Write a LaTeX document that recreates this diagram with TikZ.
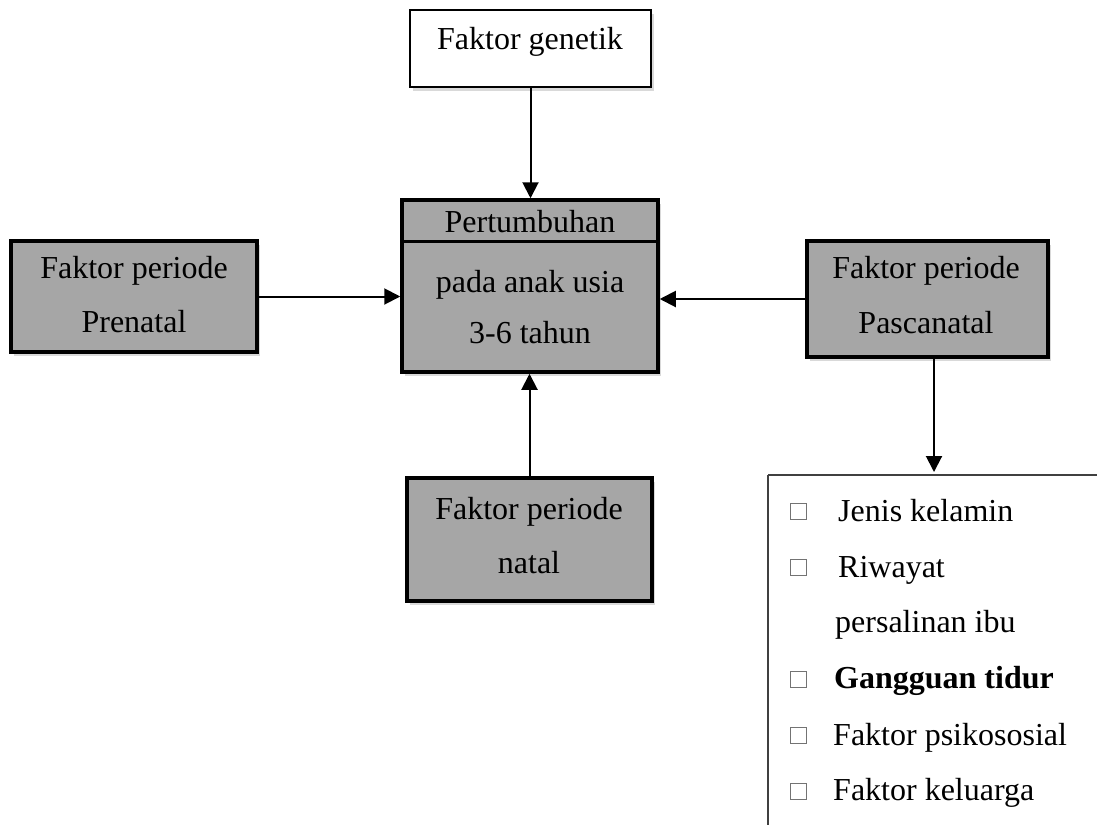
\documentclass[tikz,border=0pt]{standalone}
\usepackage{fontspec}
\setmainfont{Liberation Serif}
\usetikzlibrary{arrows.meta,shadows}
\definecolor{boxgray}{RGB}{166,166,166}
\begin{document}
\begin{tikzpicture}[x=1pt,y=-1pt,
  txt/.style={font=\fontsize{32}{36}\selectfont, inner sep=0pt, anchor=base},
  itemtxt/.style={font=\fontsize{32}{36}\selectfont, inner sep=0pt, anchor=base west},
  graybox/.style={draw, line width=3.5pt, fill=boxgray, inner sep=0pt,
    drop shadow={shadow xshift=3pt, shadow yshift=-4pt, opacity=0.3}},
  whitebox/.style={draw, line width=2pt, fill=white, inner sep=0pt,
    drop shadow={shadow xshift=3pt, shadow yshift=-4pt, opacity=0.3}},
  arr/.style={line width=2pt, -{Triangle[length=16pt,width=16pt]}},
  sq/.style={draw=black!55, line width=0.6pt, minimum size=16pt, inner sep=0pt},
  listline/.style={line width=1.8pt, draw=black!75}
]
\useasboundingbox (0,0) rectangle (1097,825);

% boxes
\node[whitebox, minimum width=241pt, minimum height=77pt] (genetik) at (530.5,48.5) {};
\node[graybox, minimum width=256pt, minimum height=172pt] (central) at (530,286) {};
\node[graybox, minimum width=246pt, minimum height=111pt] (prenatal) at (134,296.5) {};
\node[graybox, minimum width=241pt, minimum height=116pt] (pasca) at (927.5,299) {};
\node[graybox, minimum width=245pt, minimum height=123pt] (natal) at (529.5,539.5) {};

% divider in central box
\draw[line width=3pt] (central.west |- 0,241) coordinate (divl) -- (central.east |- 0,241) coordinate (divr);

% texts
\node[txt] (tgen) at (530,49) {Faktor genetik};
\node[txt] (tc1) at (530,232) {Pertumbuhan};
\node[txt] (tc2) at (530,292) {pada anak usia};
\node[txt] (tc3) at (530,343) {3-6 tahun};
\node[txt] (tp1) at (134,278) {Faktor periode};
\node[txt] (tp2) at (134,332) {Prenatal};
\node[txt] (tq1) at (926,278) {Faktor periode};
\node[txt] (tq2) at (926,333) {Pascanatal};
\node[txt] (tn1) at (529,519) {Faktor periode};
\node[txt] (tn2) at (529,573) {natal};

% list frame
\coordinate (lsttl) at (768,475);
\coordinate (lsttr) at (1097,475);
\coordinate (lstbl) at (768,825);
\draw[listline] (lsttl) -- (lsttr);
\draw[listline] (lsttl) -- (lstbl);
\coordinate (listtop) at (934,472);

% list items
\node[sq] (s1) at (798,511) {};
\node[itemtxt] (i1) at (838,521) {Jenis kelamin};
\node[sq] (s2) at (798,567) {};
\node[itemtxt] (i2) at (838,577) {Riwayat};
\node[itemtxt] (i2b) at (835,632) {persalinan ibu};
\node[sq] (s3) at (798,679) {};
\node[itemtxt, font=\fontsize{32}{36}\selectfont\bfseries] (i3) at (834,688) {Gangguan tidur};
\node[sq] (s4) at (798,735) {};
\node[itemtxt] (i4) at (833,745) {Faktor psikososial};
\node[sq] (s5) at (798,791) {};
\node[itemtxt] (i5) at (833,800) {Faktor keluarga};

% connectors
\draw[arr] (genetik.south) -- (genetik.south |- central.north);
\draw[arr] (prenatal.east) -- (prenatal.east -| central.west);
\draw[arr] (pasca.west) -- (pasca.west -| central.east);
\draw[arr] (natal.north) -- (natal.north |- central.south);
\draw[arr] (pasca.south -| listtop) -- (listtop);
\end{tikzpicture}
\end{document}
